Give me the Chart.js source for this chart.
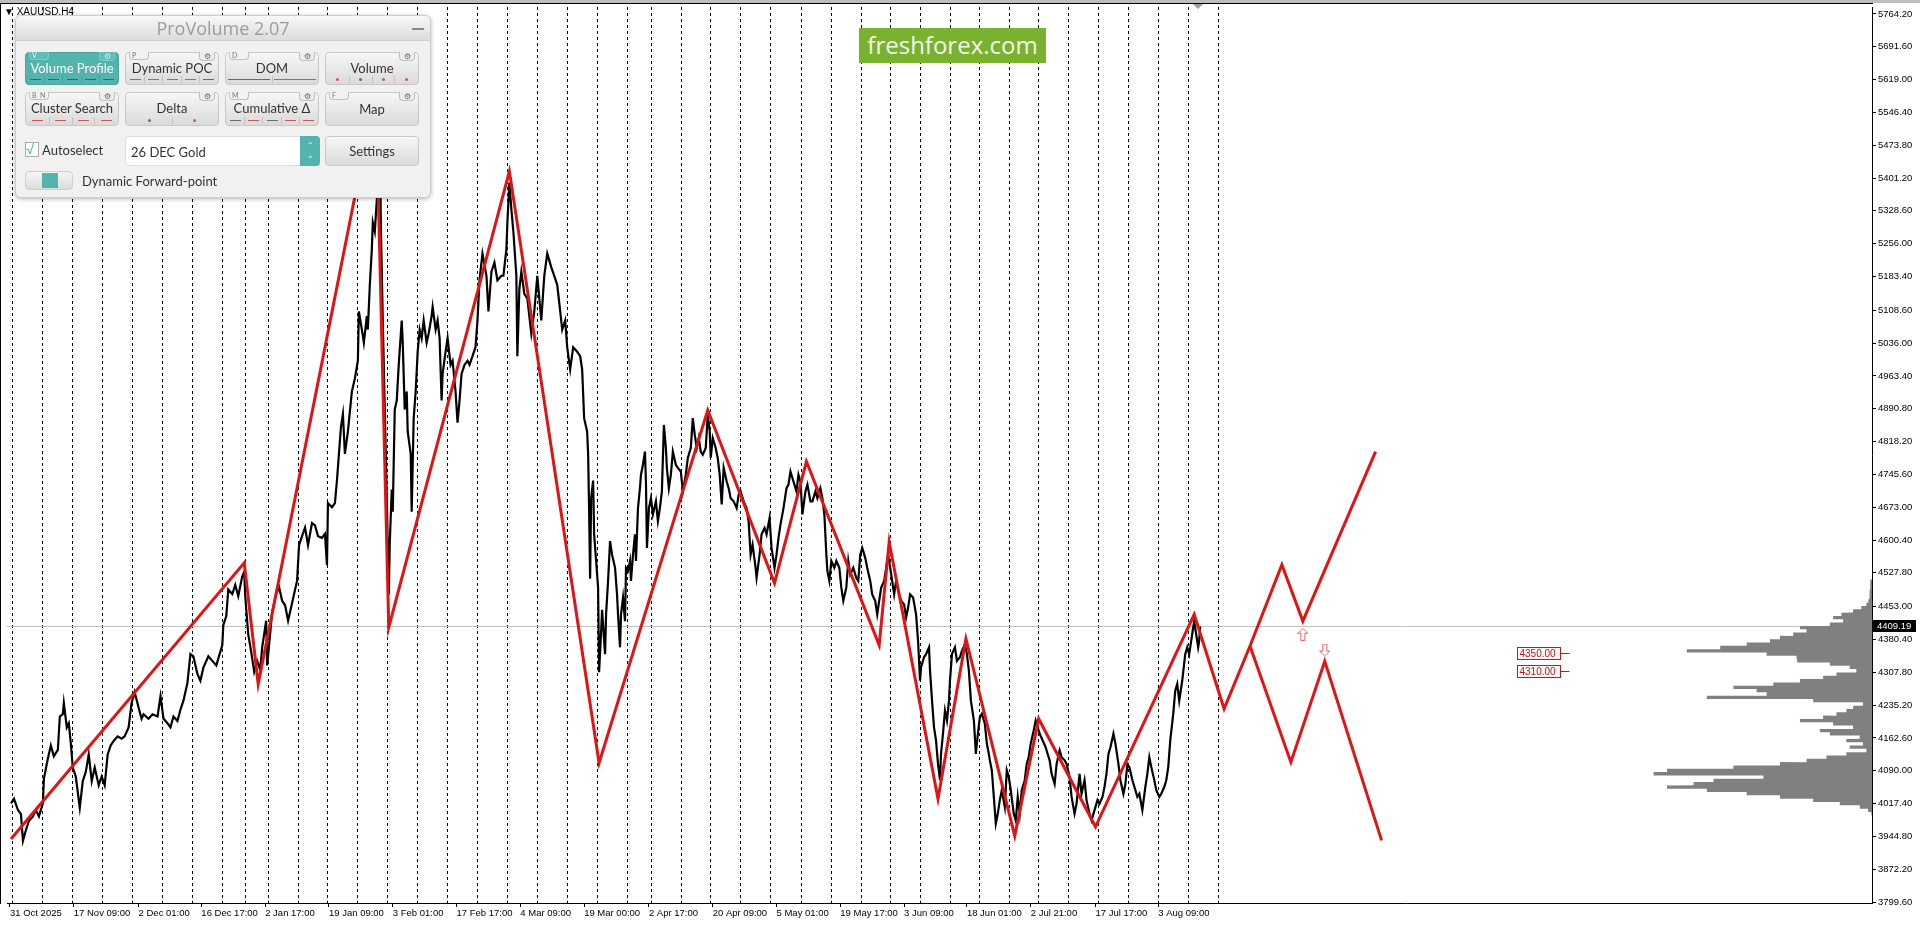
<!DOCTYPE html>
<html>
<head>
<meta charset="utf-8">
<title>XAUUSD,H4 - ProVolume</title>
<script src="https://cdn.jsdelivr.net/npm/chart.js@4.4.1/dist/chart.umd.min.js"></script>
<style>
    html, body { margin: 0; padding: 0; background: #fff; }
    body { width: 1920px; height: 927px; position: relative; overflow: hidden; font-family: 'Liberation Sans', Arial, sans-serif; }
    canvas { position: absolute; left: 0; top: 0; }
    .topband { position: absolute; left: 0; top: 0; width: 1920px; height: 3px; background: #bdbdbd; }
    .frame-top { position: absolute; left: 0; top: 3px; width: 1873px; height: 1px; background: #000; }
    .frame-left { position: absolute; left: 0; top: 3px; width: 1px; height: 901px; background: #000; }
    .shift-mark { position: absolute; left: 1193px; top: 4px; width: 0; height: 0; border-left: 5px solid transparent; border-right: 5px solid transparent; border-top: 5px solid #9a9a9a; }
    .symbol { position: absolute; left: 4px; top: 6px; font-size: 10px; color: #000; }

    .logo { position: absolute; left: 859px; top: 28px; width: 187px; height: 35px; background: #78b22e; color: #f3faea; font: 24px 'Open Sans', sans-serif; line-height: 34px; text-align: center; }

    .panel { position: absolute; left: 15px; top: 15px; width: 414px; height: 181px; background: #f1f1f1; border: 1px solid #cdcdcd; border-radius: 6px; box-shadow: 0 1px 4px rgba(0,0,0,0.3); font-family: 'Lato', sans-serif; color: #333; }
    .ptitle { height: 24px; border-radius: 6px 6px 0 0; background: linear-gradient(#f8f8f8, #dcdcdc); border-bottom: 1px solid #d0d0d0; text-align: center; font: 18px 'Open Sans', sans-serif; line-height: 25px; color: #9c9c9c; position: relative; }
    .pmin { position: absolute; right: 6px; top: 12px; width: 12px; height: 2px; background: #8a8a8a; }
    .btn { position: absolute; width: 94px; height: 33px; box-sizing: border-box; border: 1px solid #c8c8c8; border-radius: 4px; background: linear-gradient(#f7f7f7, #dadada); }
    .btn.tall { height: 34px; }
    .btn.active { background: #52b4ad; border-color: #4aa39c; }
    .cap { position: absolute; left: 0; right: 0; top: 7px; text-align: center; font-size: 13px; white-space: nowrap; }
    .btn.active .cap { color: #fff; }
    .tab { position: absolute; left: 3px; top: -1px; min-width: 14px; height: 7px; padding: 0 2px; border: 1px solid #c0c0c0; border-top: none; border-radius: 0 0 4px 4px; font-size: 7px; line-height: 7px; color: #777; background: #f2f2f2; }
    .btn.active .tab { background: #5ebdb6; color: #e8f7f6; border-color: #7fcac4; }
    .gear { position: absolute; right: 3px; top: -1px; width: 14px; height: 8px; border: 1px solid #c0c0c0; border-top: none; border-radius: 0 0 4px 4px; font-size: 8px; line-height: 8px; text-align: center; color: #666; background: #ececec; }
    .btn.active .gear { background: #5ebdb6; color: #cfeeee; border-color: #7fcac4; }
    .ind { position: absolute; left: 1px; right: 1px; bottom: 1px; height: 7px; display: flex; }
    .ind span { flex: 1; display: flex; align-items: center; justify-content: center; border-left: 1px solid rgba(0,0,0,0.13); }
    .ind span:first-child { border-left: none; }
    .dash { width: 11px; height: 1px; }
    .long { width: 42px; height: 1px; }
    .dot { width: 3px; height: 3px; border-radius: 50%; }
    .red { background: #d25555; }
    .dk { background: #2c6f67; }
    .grn { background: #4c7d5b; }
    .gry { background: #6c6c6c; }
    .check { position: absolute; left: 9px; top: 126px; width: 12px; height: 13px; border: 1px solid #aaa; background: #fff; color: #52b4ad; font-size: 13px; line-height: 12px; }
    .lbl { position: absolute; font-size: 13px; color: #333; white-space: nowrap; }
    .combo { position: absolute; left: 109px; top: 120px; width: 195px; height: 30px; box-sizing: border-box; background: #fff; border: 1px solid #dedede; border-radius: 4px; }
    .combo .txt { position: absolute; left: 5px; top: 7px; font-size: 13px; }
    .combo .spin { position: absolute; right: -1px; top: -1px; width: 20px; height: 30px; background: #52b4ad; border-radius: 0 4px 4px 0; color: #fff; font-size: 8px; line-height: 10px; text-align: center; padding-top: 4px; box-sizing: border-box; }
    .toggle { position: absolute; left: 9px; top: 155px; width: 48px; height: 19px; box-sizing: border-box; border: 1px solid #cfcfcf; border-radius: 4px; background: linear-gradient(#f5f5f5, #dcdcdc); }
    .toggle i { position: absolute; left: 16px; top: 1px; width: 16px; height: 15px; background: #52b4ad; }
</style>
</head>
<body>
<canvas id="priceChart" width="1920" height="927"></canvas>

<div class="topband"></div>
<div class="frame-top"></div>
<div class="frame-left"></div>
<div class="shift-mark"></div>
<div class="symbol">&#9660; XAUUSD,H4</div>

<div class="logo">freshforex.com</div>

<div class="panel">
    <div class="ptitle">ProVolume 2.07<span class="pmin"></span></div>

    <div class="btn active" style="left:9px;top:36px"><span class="tab">V</span><span class="gear">&#9881;</span><span class="cap">Volume Profile</span>
        <div class="ind"><span><i class="dash dk"></i></span><span><i class="dash dk"></i></span><span><i class="dash dk"></i></span><span><i class="dash dk"></i></span><span><i class="dash dk"></i></span></div></div>
    <div class="btn" style="left:109px;top:36px"><span class="tab">P</span><span class="gear">&#9881;</span><span class="cap">Dynamic POC</span>
        <div class="ind"><span><i class="dash red"></i></span><span><i class="dash red"></i></span><span><i class="dash red"></i></span><span><i class="dash red"></i></span><span><i class="dash gry"></i></span></div></div>
    <div class="btn" style="left:209px;top:36px"><span class="tab">D</span><span class="gear">&#9881;</span><span class="cap">DOM</span>
        <div class="ind"><span><i class="long grn"></i></span><span><i class="long red"></i></span></div></div>
    <div class="btn" style="left:309px;top:36px"><span class="gear">&#9881;</span><span class="cap">Volume</span>
        <div class="ind"><span><i class="dot red"></i></span><span><i class="dot grn"></i></span><span><i class="dot red"></i></span><span><i class="dot red"></i></span></div></div>

    <div class="btn tall" style="left:9px;top:76px"><span class="tab">B&nbsp;&nbsp;N</span><span class="gear">&#9881;</span><span class="cap">Cluster Search</span>
        <div class="ind"><span><i class="dash red"></i></span><span><i class="dash red"></i></span><span><i class="dash red"></i></span><span><i class="dash red"></i></span></div></div>
    <div class="btn tall" style="left:109px;top:76px"><span class="gear">&#9881;</span><span class="cap">Delta</span>
        <div class="ind"><span><i class="dot gry"></i></span><span><i class="dot red"></i></span></div></div>
    <div class="btn tall" style="left:209px;top:76px"><span class="tab">M</span><span class="gear">&#9881;</span><span class="cap">Cumulative &Delta;</span>
        <div class="ind"><span><i class="dash gry"></i></span><span><i class="dash red"></i></span><span><i class="dash gry"></i></span><span><i class="dash red"></i></span><span><i class="dash red"></i></span></div></div>
    <div class="btn tall" style="left:309px;top:76px"><span class="tab">F</span><span class="gear">&#9881;</span><span class="cap" style="top:8px">Map</span></div>

    <div class="check">&#8730;</div>
    <div class="lbl" style="left:26px;top:126px">Autoselect</div>
    <div class="combo"><span class="txt">26 DEC Gold</span><span class="spin">&#8963;<br>&#8964;</span></div>
    <div class="btn" style="left:309px;top:120px;height:30px"><span class="cap" style="top:6px">Settings</span></div>

    <div class="toggle"><i></i></div>
    <div class="lbl" style="left:66px;top:157px">Dynamic Forward-point</div>
</div>

<script>
// Price scale and time axis (H4 bar numbers, bar 0 = 31 Oct 2025)
const yTickValues = [5764.20, 5691.60, 5619.00, 5546.40, 5473.80, 5401.20, 5328.60, 5256.00, 5183.40, 5108.60,
    5036.00, 4963.40, 4890.80, 4818.20, 4745.60, 4673.00, 4600.40, 4527.80, 4453.00, 4380.40,
    4307.80, 4235.20, 4162.60, 4090.00, 4017.40, 3944.80, 3872.20, 3799.60];
const dateLabels = ['31 Oct 2025', '17 Nov 09:00', '2 Dec 01:00', '16 Dec 17:00', '2 Jan 17:00', '19 Jan 09:00',
    '3 Feb 01:00', '17 Feb 17:00', '4 Mar 09:00', '19 Mar 00:00', '2 Apr 17:00', '20 Apr 09:00', '5 May 01:00',
    '19 May 17:00', '3 Jun 09:00', '18 Jun 01:00', '2 Jul 21:00', '17 Jul 17:00', '3 Aug 09:00'];
const dateLabelBars = [0, 64, 129, 192, 256, 320, 384, 448, 512, 576, 641, 705, 769, 833, 897, 960, 1024, 1089, 1152];
const weekSeparatorBars = [3, 33, 63, 93, 123, 153, 183, 213, 236, 259, 289, 319, 349, 379, 409, 439, 469, 499, 529, 559,
    589, 619, 644, 674, 703, 733, 763, 794, 824, 854, 883, 913, 944, 973, 1003, 1032, 1062, 1092, 1122, 1152, 1182, 1212];

// XAUUSD H4 price path
const priceBar = [
    1, 4, 8, 11, 13, 16, 19, 23, 26, 29,
    33, 34, 38, 41, 44, 48, 50, 53, 54, 57,
    59, 61, 63, 66, 70, 73, 76, 79, 82, 85,
    89, 92, 95, 98, 101, 104, 108, 112, 115, 119,
    122, 125, 129, 132, 134, 139, 143, 148, 151, 154,
    158, 161, 164, 168, 171, 174, 178, 181, 184, 188,
    191, 194, 199, 203, 207, 209, 213, 214, 217, 219,
    223, 226, 229, 233, 235, 236, 239, 242, 245, 248,
    251, 253, 257, 258, 263, 267, 270, 273, 276, 279,
    282, 285, 288, 290, 293, 296, 299, 303, 306, 309,
    313,
    316, 318, 319, 323, 326, 328, 329, 332, 334, 336,
    339, 343, 346, 349, 350, 353, 355, 358, 359, 361,
    363, 364, 366, 368, 369, 371, 372, 374, 376, 378,
    380, 381, 383, 384, 386, 388, 390, 393, 394, 396,
    398, 399, 402, 403, 405, 407, 409, 411, 413, 415,
    418, 420, 423, 424, 427, 429, 431, 433, 434, 437,
    439, 442, 444, 447, 449, 451, 453, 456, 459, 461,
    464, 467, 469, 471, 474, 478, 480, 483, 486, 489,
    493, 495, 498, 499, 501, 503, 505, 508, 509, 511,
    513, 516, 519, 523, 526, 529, 533, 536, 539, 543,
    546, 549, 552, 554, 557, 559, 562, 565, 569, 572,
    574, 576, 579, 580, 581, 582, 583, 585, 586, 588,
    590, 591, 593, 594, 597,
    598, 600, 602, 604, 607, 609, 610, 612, 613, 615,
    617, 618, 620, 622, 623, 625, 627, 628, 630, 632,
    633, 635, 637, 638, 639, 641, 643, 645, 648, 650,
    652, 654, 656, 658, 659, 661, 663, 665, 668, 670,
    673, 675, 678, 680, 683, 685, 687, 689, 691, 693,
    695, 698, 700, 702, 703, 705, 708, 710, 712, 714,
    716, 719, 721, 723, 726, 729, 731, 733, 736, 739,
    741, 743, 745, 748, 749, 752, 754, 757, 759, 762,
    764, 767, 769, 771, 773, 776, 779, 781, 783, 786,
    789, 791, 793, 795, 798, 800, 803, 805, 808, 810,
    813, 815, 817, 819, 820, 822, 824, 827, 829, 832,
    834, 836, 839, 841, 843, 846, 849, 851, 853, 855,
    858, 860, 863, 865, 868, 870, 872, 874, 877, 879,
    881, 883, 885, 887, 889, 892, 894, 897, 899, 901,
    903, 906, 909, 911,
    913, 914, 917, 919, 922, 923, 925, 927, 929, 931,
    933, 934, 936, 938, 940, 942, 943, 945, 948, 950,
    953, 955, 958, 960, 962, 964, 967, 969, 971, 973,
    975, 978, 980, 982, 983, 985, 987, 989, 991, 993,
    995, 998, 1000, 1002, 1004, 1007, 1009, 1011, 1013, 1015,
    1018, 1020, 1022, 1024, 1027, 1029, 1031, 1033, 1036, 1039,
    1041, 1043, 1045, 1048, 1050, 1053, 1055, 1058, 1060, 1063,
    1065, 1068, 1070, 1073, 1075, 1078, 1080, 1083, 1085, 1087,
    1089, 1091, 1093, 1096, 1098, 1100, 1102, 1104, 1107, 1109,
    1112, 1114, 1117, 1119, 1121, 1123, 1126, 1129, 1131, 1133,
    1136, 1139, 1141, 1143, 1145, 1148, 1150, 1153, 1155, 1158,
    1160, 1162, 1164, 1167, 1169, 1171, 1173, 1176, 1179, 1181,
    1183, 1186, 1188, 1190, 1192, 1193, 1194
];
const priceClose = [
    4018, 4028, 4003, 3994, 3935, 3959, 3979, 3989, 4003, 3989,
    4018, 4072, 4117, 4146, 4122, 4136, 4210, 4215, 4240, 4186,
    4195, 4151, 4097, 4077, 4008, 4067, 4087, 4126, 4067, 4097,
    4058, 4077, 4058, 4126, 4146, 4156, 4166, 4161, 4166, 4186,
    4240, 4264, 4230, 4205, 4215, 4205, 4215, 4210, 4255, 4205,
    4195, 4186, 4210, 4200, 4225, 4245, 4284, 4348, 4343, 4304,
    4289, 4318, 4343, 4333, 4323, 4338, 4368, 4412, 4432, 4491,
    4481, 4501, 4476, 4520, 4530, 4476, 4392, 4353, 4309, 4333,
    4314, 4363, 4422, 4323, 4441, 4481, 4496, 4466, 4456, 4422,
    4451, 4481, 4510, 4589, 4609, 4628, 4589, 4638, 4633, 4609,
    4605,
    4614, 4545, 4682, 4673, 4682, 4732, 4761, 4850, 4879, 4791,
    4840, 4929, 4958, 4997, 5106, 5066, 5037, 5096, 5066, 5165,
    5244, 5303, 5283, 5352, 5381, 5540, 5303, 5086, 4889, 4692,
    4480, 4594, 4712, 4663, 4889, 4909, 4988, 5086, 5037, 4889,
    4929, 4840, 4791, 4663, 4870, 4929, 5017, 5066, 5047, 5086,
    5037, 5057, 5096, 5116, 5066, 5086, 5047, 4909, 4968, 5017,
    5047, 4988, 4997, 4929, 4860, 4909, 4968, 4988, 4997, 4988,
    5007, 5027, 5086, 5175, 5234, 5185, 5106, 5194, 5214, 5175,
    5185, 5185, 5244, 5303, 5391, 5332, 5283, 5185, 5007, 5155,
    5194, 5145, 5135, 5057, 5106, 5185, 5086, 5185, 5234, 5204,
    5185, 5165, 5106, 5066, 5086, 5027, 4978, 5027, 5017, 5007,
    4978, 4870, 4840, 4791, 4663, 4515, 4692, 4732, 4614, 4555,
    4495, 4308, 4397, 4446, 4348,
    4436, 4510, 4598, 4568, 4539, 4480, 4436, 4363, 4436, 4473,
    4421, 4539, 4532, 4554, 4510, 4568, 4613, 4554, 4671, 4715,
    4745, 4767, 4796, 4730, 4583, 4671, 4693, 4657, 4686, 4642,
    4671, 4708, 4855, 4804, 4760, 4715, 4745, 4796, 4767, 4760,
    4752, 4708, 4745, 4782, 4804, 4870, 4833, 4804, 4826, 4796,
    4789, 4804, 4877, 4840, 4782, 4826, 4804, 4782, 4745, 4679,
    4760, 4730, 4715, 4693, 4686, 4671, 4701, 4708, 4686, 4671,
    4642, 4568, 4590, 4539, 4517, 4568, 4613, 4627, 4613, 4649,
    4583, 4539, 4568, 4605, 4635, 4671, 4715, 4723, 4752, 4730,
    4708, 4745, 4730, 4657, 4708, 4723, 4686, 4686, 4708, 4693,
    4715, 4693, 4657, 4568, 4532, 4510, 4554, 4539, 4554, 4539,
    4495, 4466, 4495, 4554, 4524, 4539, 4517, 4510, 4568, 4583,
    4561, 4539, 4510, 4480, 4466, 4436, 4466, 4495, 4510, 4539,
    4568, 4539, 4510, 4480, 4510, 4480, 4466, 4458, 4429, 4451,
    4480, 4473, 4436, 4377,
    4289, 4319, 4341, 4348, 4363, 4311, 4245, 4186, 4157, 4105,
    4069, 4127, 4172, 4223, 4201, 4245, 4289, 4348, 4363, 4333,
    4341, 4355, 4370, 4348, 4311, 4245, 4201, 4127, 4172, 4208,
    4216, 4194, 4150, 4127, 4113, 4091, 4032, 3973, 3995, 4025,
    4047, 4010, 4091, 4076, 4047, 3995, 3980, 4032, 3995, 4047,
    4069, 4105, 4120, 4150, 4179, 4201, 4186, 4172, 4157, 4142,
    4127, 4113, 4083, 4061, 4105, 4135, 4120, 4113, 4105, 4076,
    4032, 3995, 4017, 4083, 4039, 4069, 4025, 3995, 3980, 3995,
    4010, 4025, 4017, 4032, 4054, 4083, 4127, 4142, 4172, 4150,
    4105, 4069, 4039, 4061, 4105, 4098, 4069, 4047, 4032, 4039,
    4003, 4054, 4083, 4120, 4098, 4069, 4047, 4032, 4039, 4054,
    4069, 4098, 4157, 4216, 4267, 4282, 4245, 4289, 4348, 4363,
    4348, 4392, 4421, 4392, 4363, 4377, 4409.19
];
const lastPrice = 4409.19;

// ZigZag swings and forecast branches
const zigzagBar = [1, 235, 249, 367, 380, 501, 591, 700, 767, 799, 872, 882, 931, 959, 1008, 1032, 1089, 1188, 1218, 1244];
const zigzagPrice = [3939, 4550, 4282, 5594, 4407, 5416, 4107, 4888, 4505, 4774, 4368, 4596, 4028, 4382, 3946, 4205, 3966, 4436, 4227, 4366];
const forecastUpBar = [1244, 1276, 1297, 1370];
const forecastUpPrice = [4366, 4546, 4421, 4796];
const forecastDownBar = [1244, 1285, 1319, 1376];
const forecastDownPrice = [4366, 4109, 4332, 3936];
const signalUpBar = [1297];
const signalUpPrice = [4392];
const signalDownBar = [1319];
const signalDownPrice = [4357];

// Level tags
const levelPrices = [4350.00, 4310.00];
const levelTagBar = 1512;

// Volume profile (price level -> relative volume, one level = 7.35)
const profilePrice = [
    4509.6, 4502.3, 4494.9, 4487.6, 4480.2, 4472.9, 4465.5, 4458.2, 4450.8, 4443.5,
    4436.1, 4428.8, 4421.4, 4414.1, 4406.7, 4399.4, 4392.0, 4384.7, 4377.3, 4370.0,
    4362.6, 4355.3, 4347.9, 4340.6, 4333.2, 4325.9, 4318.5, 4311.2, 4303.8, 4296.5,
    4289.1, 4281.8, 4274.4, 4267.1, 4259.7, 4252.4, 4245.0, 4237.7, 4230.3, 4223.0,
    4215.6, 4208.3, 4200.9, 4193.6, 4186.2, 4178.9, 4171.5, 4164.2, 4156.8, 4149.5,
    4142.1, 4134.8, 4127.4, 4120.1, 4112.7, 4105.4, 4098.0, 4090.7, 4083.3, 4076.0,
    4068.6, 4061.3, 4053.9, 4046.6, 4039.2, 4031.9, 4024.5, 4017.2, 4009.8, 4002.5,
    3995.1
];
const profileVolume = [
    1.7, 1.7, 2, 2.3, 2.3, 3, 3.7, 5.7, 10.7, 19,
    30.7, 39, 29, 42.3, 72.3, 65.7, 79, 92.3, 102.3, 125.7,
    152.3, 185.7, 105.7, 75.7, 75, 42.3, 22.3, 15.7, 35.7, 49,
    72.3, 99, 139, 115.7, 105.7, 165.7, 59, 9, 19, 25.7,
    35.7, 49, 72.3, 39, 19, 52.3, 42.3, 12.3, 25.7, 9,
    22.3, 5.7, 25.7, 45.7, 65.7, 92.3, 139, 205.7, 219, 109,
    159, 179, 205.7, 165.7, 125.7, 92.3, 59, 32.3, 12.3, 4,
    0.7
];

(function() {
    'use strict';

    const X_MIN = -3, X_MAX = 1868;
    const Y_MIN = 3797.4, Y_MAX = 5779.6;
    const PROFILE_STEP = 7.35;
    const AXIS_FONT = { family: 'Liberation Sans', size: 9.5 };

    document.addEventListener('DOMContentLoaded', function() {
        initPriceChart();
    });

    /**
     * Zip two parallel arrays into {x, y} points
     */
    function toPoints(xs, ys) {
        return xs.map((x, i) => ({ x: x, y: ys[i] }));
    }

    /**
     * Stepped outline of the volume profile, hanging from the right edge
     */
    function buildProfileOutline() {
        const half = PROFILE_STEP / 2;
        const pts = [{ x: X_MAX, y: profilePrice[0] + half }];
        profilePrice.forEach(function(p, i) {
            const x = X_MAX - profileVolume[i];
            pts.push({ x: x, y: p + half });
            pts.push({ x: x, y: p - half });
        });
        pts.push({ x: X_MAX, y: profilePrice[profilePrice.length - 1] - half });
        return pts;
    }

    /**
     * Small outlined arrow used as point style for the signal marks
     */
    function makeArrow(up) {
        const c = document.createElement('canvas');
        c.width = 11; c.height = 13;
        const g = c.getContext('2d');
        g.strokeStyle = '#e0606a';
        g.lineWidth = 1;
        g.beginPath();
        if (up) {
            g.moveTo(5.5, 0.5); g.lineTo(10.5, 5.5); g.lineTo(7.5, 5.5); g.lineTo(7.5, 12.5);
            g.lineTo(3.5, 12.5); g.lineTo(3.5, 5.5); g.lineTo(0.5, 5.5);
        } else {
            g.moveTo(5.5, 12.5); g.lineTo(10.5, 7.5); g.lineTo(7.5, 7.5); g.lineTo(7.5, 0.5);
            g.lineTo(3.5, 0.5); g.lineTo(3.5, 7.5); g.lineTo(0.5, 7.5);
        }
        g.closePath();
        g.stroke();
        return c;
    }

    /**
     * Level tags and the bid label on the price axis
     */
    const tagPlugin = {
        id: 'levelTags',
        afterDraw(chart) {
            const { ctx, scales: { x, y } } = chart;
            ctx.save();
            ctx.textBaseline = 'middle';
            ctx.textAlign = 'left';
            ctx.font = '10px "Liberation Sans"';
            levelPrices.forEach(function(p) {
                const px = Math.round(x.getPixelForValue(levelTagBar)) + 0.5;
                const py = Math.round(y.getPixelForValue(p)) + 0.5;
                ctx.fillStyle = '#fff6f6';
                ctx.fillRect(px, py - 6, 43, 12);
                ctx.strokeStyle = '#c01818';
                ctx.lineWidth = 1;
                ctx.strokeRect(px, py - 6, 43, 12);
                ctx.beginPath();
                ctx.moveTo(px + 43, py);
                ctx.lineTo(px + 52, py);
                ctx.stroke();
                ctx.fillStyle = '#c01818';
                ctx.fillText(p.toFixed(2), px + 2, py + 1);
            });

            const by = Math.round(y.getPixelForValue(lastPrice));
            ctx.fillStyle = '#000';
            ctx.fillRect(x.right + 1, by - 6, 43, 12);
            ctx.fillStyle = '#fff';
            ctx.font = '9.5px "Liberation Sans"';
            ctx.fillText(lastPrice.toFixed(2), x.right + 5, by + 0.5);
            ctx.restore();
        }
    };

    /**
     * Main price chart: bars path, zigzag, forecast, profile, separators
     */
    function initPriceChart() {
        const canvas = document.getElementById('priceChart');
        if (!canvas) return;

        const labelAt = new Map(dateLabelBars.map((b, i) => [b, dateLabels[i]]));
        const sepSet = new Set(weekSeparatorBars);
        const xTicks = Array.from(new Set(dateLabelBars.concat(weekSeparatorBars))).sort((a, b) => a - b);

        new Chart(canvas.getContext('2d'), {
            type: 'line',
            data: {
                datasets: [
                    {
                        label: 'ZigZag',
                        data: toPoints(zigzagBar, zigzagPrice),
                        borderColor: '#e01414',
                        borderWidth: 3,
                        borderJoinStyle: 'miter',
                        pointRadius: 0
                    },
                    {
                        label: 'Forecast up',
                        data: toPoints(forecastUpBar, forecastUpPrice),
                        borderColor: '#e01414',
                        borderWidth: 3,
                        borderJoinStyle: 'miter',
                        pointRadius: 0
                    },
                    {
                        label: 'Forecast down',
                        data: toPoints(forecastDownBar, forecastDownPrice),
                        borderColor: '#e01414',
                        borderWidth: 3,
                        borderJoinStyle: 'miter',
                        pointRadius: 0
                    },
                    {
                        label: 'Buy signal',
                        data: toPoints(signalUpBar, signalUpPrice),
                        showLine: false,
                        pointStyle: makeArrow(true),
                        pointRadius: 6
                    },
                    {
                        label: 'Sell signal',
                        data: toPoints(signalDownBar, signalDownPrice),
                        showLine: false,
                        pointStyle: makeArrow(false),
                        pointRadius: 6
                    },
                    {
                        label: 'XAUUSD,H4',
                        data: toPoints(priceBar, priceClose),
                        borderColor: '#000',
                        borderWidth: 2.2,
                        borderJoinStyle: 'miter',
                        pointRadius: 0
                    },
                    {
                        label: 'Volume Profile',
                        data: buildProfileOutline(),
                        borderColor: 'rgba(0,0,0,0)',
                        borderWidth: 0,
                        backgroundColor: '#808080',
                        fill: 'shape',
                        pointRadius: 0
                    },
                    {
                        label: 'Bid',
                        data: [{ x: X_MIN, y: lastPrice }, { x: X_MAX, y: lastPrice }],
                        borderColor: '#c0c0c0',
                        borderWidth: 1,
                        pointRadius: 0
                    }
                ]
            },
            options: {
                responsive: false,
                animation: false,
                devicePixelRatio: 1,
                events: [],
                layout: { padding: { left: 1, top: 4, right: 0, bottom: 0 } },
                plugins: {
                    legend: { display: false },
                    tooltip: { enabled: false },
                    filler: { propagate: false }
                },
                scales: {
                    x: {
                        type: 'linear',
                        min: X_MIN,
                        max: X_MAX,
                        afterBuildTicks: function(scale) {
                            scale.ticks = xTicks.map(v => ({ value: v }));
                        },
                        afterFit: function(scale) {
                            scale.height = 24;
                            scale.paddingLeft = 0;
                            scale.paddingRight = 0;
                        },
                        ticks: {
                            autoSkip: false,
                            maxRotation: 0,
                            align: 'start',
                            padding: 1,
                            color: '#000',
                            font: AXIS_FONT,
                            callback: function(value) {
                                return labelAt.has(value) ? labelAt.get(value) : '';
                            }
                        },
                        grid: {
                            lineWidth: 1,
                            tickLength: 4,
                            color: function(ctx) {
                                return ctx.tick && sepSet.has(ctx.tick.value) ? '#000' : 'rgba(0,0,0,0)';
                            },
                            tickColor: function(ctx) {
                                return ctx.tick && labelAt.has(ctx.tick.value) ? '#000' : 'rgba(0,0,0,0)';
                            }
                        },
                        border: { display: true, color: '#000', width: 1, dash: [3, 3] }
                    },
                    y: {
                        position: 'right',
                        min: Y_MIN,
                        max: Y_MAX,
                        afterBuildTicks: function(scale) {
                            scale.ticks = yTickValues.map(v => ({ value: v }));
                        },
                        afterFit: function(scale) {
                            scale.width = 48;
                            scale.paddingTop = 0;
                            scale.paddingBottom = 0;
                        },
                        ticks: {
                            autoSkip: false,
                            padding: 2,
                            color: '#000',
                            font: AXIS_FONT,
                            callback: function(value) {
                                return Number(value).toFixed(2);
                            }
                        },
                        grid: {
                            drawOnChartArea: false,
                            drawTicks: true,
                            tickLength: 4,
                            tickColor: '#000'
                        },
                        border: { display: true, color: '#000', width: 1 }
                    }
                }
            },
            plugins: [tagPlugin]
        });
    }
})();
</script>
</body>
</html>
